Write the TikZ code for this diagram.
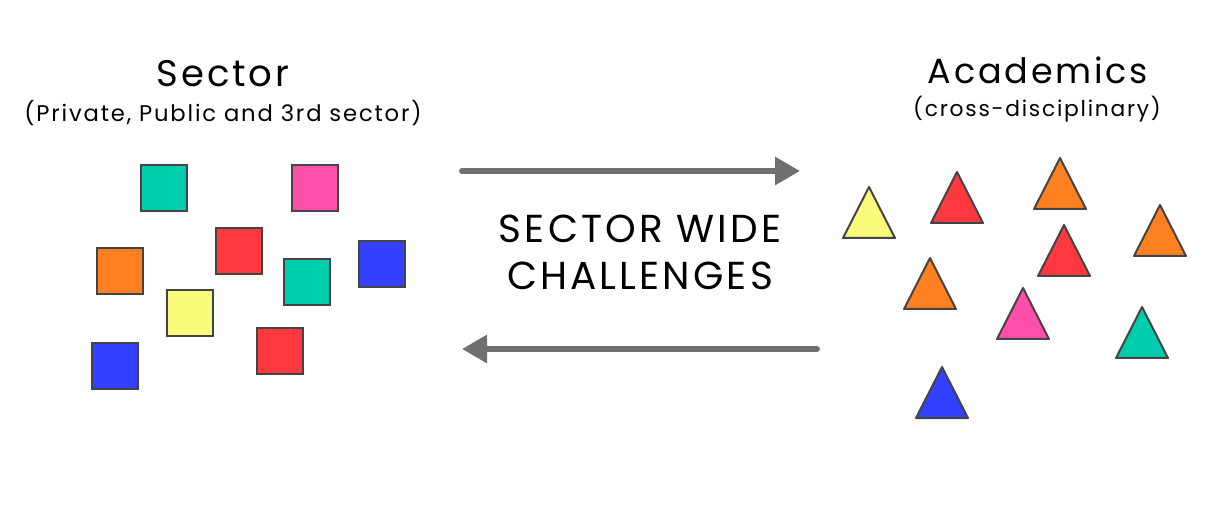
\documentclass[tikz,border=0pt]{standalone}
\usepackage{fontspec}
\setmainfont[LetterSpace=8]{Poppins}
\usepackage{tikz}
\usetikzlibrary{arrows.meta,positioning}

\definecolor{cteal}{HTML}{00CCAE}
\definecolor{cpink}{HTML}{FF4FA8}
\definecolor{cred}{HTML}{FF393F}
\definecolor{corange}{HTML}{FF8020}
\definecolor{cblue}{HTML}{3340FF}
\definecolor{cyellow}{HTML}{F9F97A}
\definecolor{cedge}{HTML}{444444}
\definecolor{carrow}{HTML}{707070}

\begin{document}
\begin{tikzpicture}[x=1pt, y=-1pt,
    sq/.style={draw=cedge, line width=1.5pt, minimum size=46pt, inner sep=0pt},
    tri/.style={draw=cedge, line width=2pt, line join=round},
    flow/.style={draw=carrow, line width=6pt, line cap=round, -{Triangle[length=25pt,width=27pt]}}]
    \useasboundingbox (0,0) rectangle (1231,510);

    % headings
    \node[font=\fontsize{37}{44}\selectfont] (sec) at (223,74) {Sector};
    \node[font=\fontsize{22.7}{27}\selectfont] (secsub) at (223,113) {(Private, Public and 3rd sector)};
    \node[font=\fontsize{35}{42}\selectfont] (aca) at (1038,70) {Academics};
    \node[font=\fontsize{21.8}{26}\selectfont] (acasub) at (1037,109) {(cross-disciplinary)};

    % sector squares
    \node[sq, fill=cteal] (s1) at (164,188) {};
    \node[sq, fill=cpink] (s2) at (315,188) {};
    \node[sq, fill=cred] (s3) at (239,251) {};
    \node[sq, fill=corange] (s4) at (120,271) {};
    \node[sq, fill=cteal] (s5) at (307,282) {};
    \node[sq, fill=cblue] (s6) at (382,264) {};
    \node[sq, fill=cyellow] (s7) at (190,313) {};
    \node[sq, fill=cred] (s8) at (280,351) {};
    \node[sq, fill=cblue] (s9) at (115,366) {};

    % academic triangles (apex, then base)
    \draw[tri, fill=cyellow] (869,187) -- ++(26,51) -- ++(-52,0) -- cycle;
    \draw[tri, fill=cred] (957,172) -- ++(26,51) -- ++(-52,0) -- cycle;
    \draw[tri, fill=corange] (1060,158) -- ++(26,51) -- ++(-52,0) -- cycle;
    \draw[tri, fill=corange] (1160,205) -- ++(26,51) -- ++(-52,0) -- cycle;
    \draw[tri, fill=cred] (1064,225) -- ++(26,51) -- ++(-52,0) -- cycle;
    \draw[tri, fill=corange] (930,258) -- ++(26,51) -- ++(-52,0) -- cycle;
    \draw[tri, fill=cpink] (1023,288) -- ++(26,51) -- ++(-52,0) -- cycle;
    \draw[tri, fill=cteal] (1142,307) -- ++(26,51) -- ++(-52,0) -- cycle;
    \draw[tri, fill=cblue] (942,367) -- ++(26,51) -- ++(-52,0) -- cycle;

    % middle label and arrows
    \node[font=\fontsize{39}{47}\selectfont, align=center] (chal) at (640,252) {SECTOR WIDE\\CHALLENGES};
    \coordinate (toA) at (462,171);
    \coordinate (toB) at (800,171);
    \coordinate (fromB) at (817,349);
    \coordinate (fromA) at (462,349);
    \draw[flow] (toA) -- (toB);
    \draw[flow] (fromB) -- (fromA);
\end{tikzpicture}
\end{document}
